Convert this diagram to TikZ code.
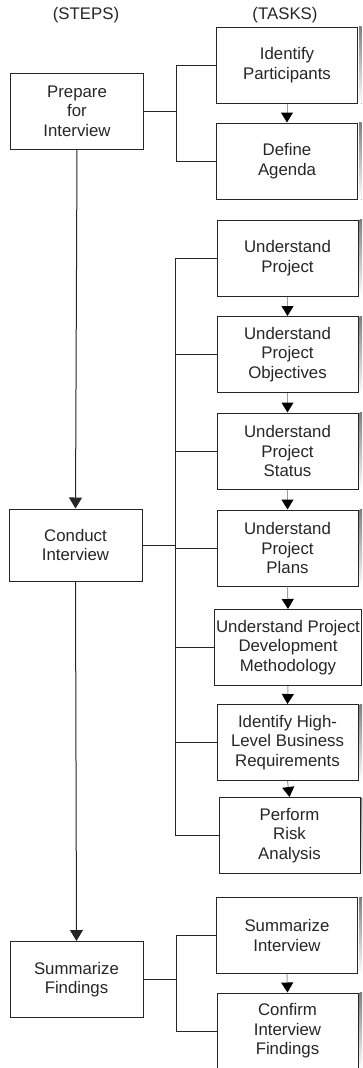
\documentclass[tikz,border=0pt]{standalone}
\usepackage{fontspec}
\setmainfont{Liberation Sans}
\usetikzlibrary{arrows.meta}
\definecolor{ink}{HTML}{262626}
\definecolor{shade}{HTML}{B8B8B8}
\definecolor{link}{HTML}{9C9C9C}
\tikzset{
  label font/.style={font=\fontsize{16.8}{19.5}\selectfont,text=ink},
  stepbox/.style={draw=ink,line width=1pt,label font,align=center,inner sep=2pt,minimum width=133,minimum height=76},
  taskbox/.style={stepbox,minimum width=141},
  steparrow/.style={draw=ink,line width=1pt,-{Triangle[width=13pt,length=11pt]}},
  taskarrow/.style={draw=link,line width=1pt,-{Triangle[width=12pt,length=10pt,color=black]}},
  bus/.style={draw=ink,line width=1pt}
}
\begin{document}
\begin{tikzpicture}[x=1pt,y=-1pt]
  \useasboundingbox (0,0) rectangle (362,1068);
  \clip (0,0) rectangle (362,1068);

  \node[label font] (hsteps) at (86,15) {(STEPS)};
  \node[label font] (htasks) at (285,15) {(TASKS)};

  \node[stepbox] (prep) at (77,111) {Prepare\\for\\Interview}; %step 1
  \node[stepbox,minimum height=72] (cond) at (75.5,545) {Conduct\\Interview}; %step 2
  \node[stepbox] (summ) at (76.5,979.5) {Summarize\\Findings}; %step 3

  \coordinate (busA) at (176,0); %bracket x
  \coordinate (busB) at (175,0);
  \coordinate (busC) at (176,0);

  \node[taskbox] (t1) at (287,65) {Identify\\Participants};
  \node[taskbox] (t2) at (287,161) {Define\\Agenda};
  \node[taskbox] (t3) at (287.5,258) {Understand\\Project};
  \node[taskbox] (t4) at (287.5,354.5) {Understand\\Project\\Objectives};
  \node[taskbox] (t5) at (287.5,451) {Understand\\Project\\Status};
  \node[taskbox] (t6) at (287.5,548) {Understand\\Project\\Plans};
  \node[taskbox] (t7) at (288,647.5) {Understand Project\\Development\\Methodology};
  \node[taskbox] (t8) at (287.5,742.5) {Identify High-\\Level Business\\Requirements};
  \node[taskbox] (t9) at (289.5,835.5) {Perform\\Risk\\Analysis};
  \node[taskbox] (t10) at (287,935.5) {Summarize\\Interview};
  \node[taskbox] (t11) at (287.5,1031) {Confirm\\Interview\\Findings};

  \foreach \t in {t1,t2,t3,t4,t5,t6,t7,t8,t9,t10,t11}
    \fill[shade] ([xshift=1pt]\t.north east) rectangle ([xshift=3.5pt]\t.south east); %shadow

  \draw[steparrow] (prep.south) -- (cond.north);
  \draw[steparrow] (cond.south) -- (summ.north);

  \foreach \a/\b in {t1/t2,t3/t4,t4/t5,t5/t6,t6/t7,t7/t8,t8/t9,t10/t11}
    \draw[taskarrow] (\a.south) -- (\b.north);

  % prepare
  \draw[bus] (t1.west -| busA) -- (t2.west -| busA);
  \foreach \t in {t1,t2} \draw[bus] (\t.west) -- (\t.west -| busA);
  \draw[bus] (prep.east) -- (prep.east -| busA);
  % conduct
  \draw[bus] (t3.west -| busB) -- (t9.west -| busB);
  \foreach \t in {t3,t4,t5,t6,t7,t8,t9} \draw[bus] (\t.west) -- (\t.west -| busB);
  \draw[bus] (cond.east) -- (cond.east -| busB);
  % summarize
  \draw[bus] (t10.west -| busC) -- (t11.west -| busC);
  \foreach \t in {t10,t11} \draw[bus] (\t.west) -- (\t.west -| busC);
  \draw[bus] (summ.east) -- (summ.east -| busC);
\end{tikzpicture}
\end{document}
